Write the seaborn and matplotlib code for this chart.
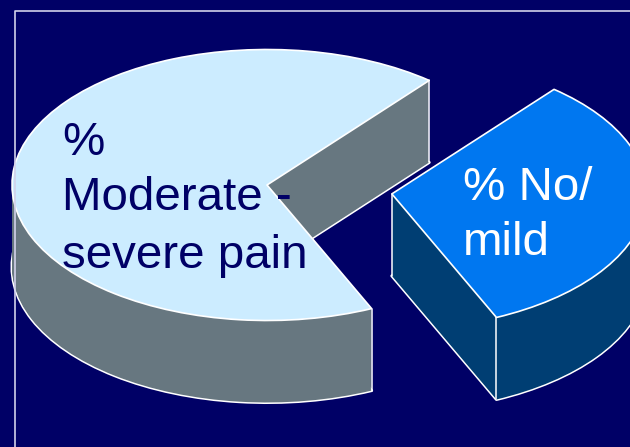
import numpy as np
import matplotlib
matplotlib.use("Agg")
import matplotlib.pyplot as plt
from matplotlib.transforms import Affine2D
import seaborn as sns

categories = ["% Moderate - severe pain", "% No/mild"]
values = [67.7, 32.3]
explode = [0.0, 0.494]
top_colors = sns.color_palette(["#CCECFF", "#0077F0"])
side_colors = sns.color_palette(["#677780", "#003E73"])
background = "#000066"
frame_color = "#D2D2EA"
start_angle = 50.5
depth = 0.605          # pie depth, in units of the vertical radius
layers = 82

sns.set_theme(style="white", rc={"figure.facecolor": background,
                                 "axes.facecolor": background,
                                 "font.family": ["Liberation Sans", "DejaVu Sans"]})

W, H = 630, 447
fig = plt.figure(figsize=(W / 100, H / 100), dpi=100)
ax = fig.add_axes([0, 0, 1, 1])

RX, RY = 255.0, 135.5
CX, CY = 267.0, 185.0
pix = Affine2D().scale(1, -1).translate(0, H)  # image pixels -> display


def pie_at(offset, colors, **wedge):
    w, _ = ax.pie(values, explode=explode, colors=colors, startangle=start_angle,
                  center=(0, offset), radius=1, wedgeprops=wedge)
    return w


# bottom outline, then the extruded side, then the top face
pie_at(-depth, side_colors, edgecolor="white", linewidth=2.2, joinstyle="round", zorder=1)
for off in np.linspace(-depth, 0, layers):
    pie_at(off, side_colors, edgecolor="none", linewidth=0, zorder=2)

top = pie_at(0, top_colors, edgecolor="white", linewidth=1.2, joinstyle="round", zorder=4)


def rim(w, theta):
    t = np.deg2rad(theta)
    return w.center[0] + w.r * np.cos(t), w.center[1] + w.r * np.sin(t)


big, small = top
corners = [rim(big, big.theta1), rim(big, big.theta2), small.center, rim(small, small.theta1)]
for x, y in corners:
    ax.plot([x, x], [y, y - depth], color="white", lw=1.1, zorder=3, solid_capstyle="round")

ax.set_aspect("auto")
ax.set_xlim(-CX / RX, (W - CX) / RX)
ax.set_ylim((CY - H) / RY, CY / RY)
ax.set_axis_off()

# slide frame running off the right and bottom edges
fig.add_artist(plt.Line2D([14.5, 14.5, W], [H, 10.5, 10.5], transform=pix, color=frame_color, lw=1.2))

FS = 34.2
ax.text(62, 143, "%", transform=pix, color="#000066", fontsize=FS, va="center", ha="left", zorder=5)
ax.text(62, 198, "Moderate -", transform=pix, color="#000066", fontsize=FS, va="center", ha="left", zorder=5)
ax.text(62, 256, "severe pain", transform=pix, color="#000066", fontsize=FS, va="center", ha="left", zorder=5)
ax.text(463, 188, "% No/", transform=pix, color="white", fontsize=FS, va="center", ha="left", zorder=5)
ax.text(463, 243, "mild", transform=pix, color="white", fontsize=FS, va="center", ha="left", zorder=5)

fig.savefig("out.png", dpi=100, facecolor=background)
